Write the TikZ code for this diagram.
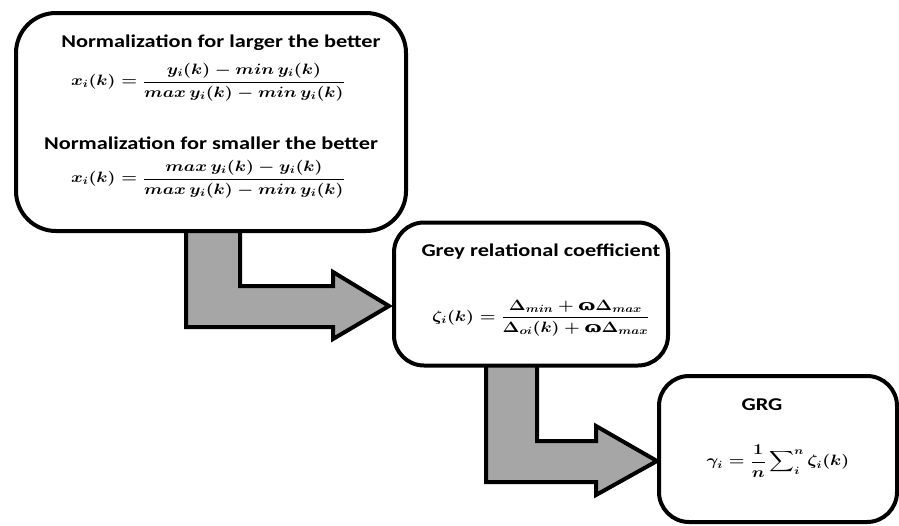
\documentclass[tikz,border=0pt]{standalone}
\usepackage{fix-cm}
\usepackage{amsmath}
\usepackage{graphicx}
\usepackage{fontspec}
\setmainfont{Carlito}
\newfontfamily\omegafont{DejaVu Serif}
\newcommand{\myomega}{\text{\omegafont\bfseries ɷ}}
\newcommand{\widetext}[1]{\scalebox{1.24}[1]{#1}}
\newcommand{\widemath}[1]{\scalebox{1.2}[1]{$#1$}}
\begin{document}
\begin{tikzpicture}[x=1pt,y=-1pt,
  boxstyle/.style={draw=black,line width=4pt,fill=white,rounded corners=#1},
  arrowstyle/.style={draw=black,line width=4pt,fill=gray!70,line join=miter},
  titlestyle/.style={font=\fontsize{18}{21}\selectfont\bfseries,inner sep=0pt},
  mathstyle/.style={font=\fontsize{15}{18}\selectfont\boldmath,inner sep=0pt}]
\useasboundingbox (0,0) rectangle (899,525);
\fill[white] (0,0) rectangle (899,525);
% arrows
\draw[arrowstyle] (186,225) -- (240,225) -- (240,286) -- (333,286) -- (333,272) -- (389,306) -- (333,339) -- (333,327) -- (186,327) -- cycle;
\draw[arrowstyle] (486,360) -- (537,360) -- (537,441) -- (596,441) -- (596,426) -- (657,461) -- (596,495) -- (596,482) -- (486,482) -- cycle;
% boxes
\node[boxstyle=40pt,minimum width=390pt,minimum height=218pt,inner sep=0pt] (norm) at (211,122) {};
\node[boxstyle=30pt,minimum width=274pt,minimum height=143pt,inner sep=0pt] (grc) at (531,294) {};
\node[boxstyle=30pt,minimum width=238pt,minimum height=146pt,inner sep=0pt] (grg) at (778,449) {};
% texts
\node[titlestyle] (t1) at (221,43) {\widetext{Normalization for larger the better}};
\node[mathstyle] (f1) at (208,82) {\widemath{x_i(k)=\dfrac{y_i(k)-min\,y_i(k)}{max\,y_i(k)-min\,y_i(k)}}};
\node[titlestyle] (t2) at (211,143) {\widetext{Normalization for smaller the better}};
\node[mathstyle] (f2) at (208,179) {\widemath{x_i(k)=\dfrac{max\,y_i(k)-y_i(k)}{max\,y_i(k)-min\,y_i(k)}}};
\node[titlestyle] (t3) at (541,252) {\widetext{Grey relational coefficient}};
\node[mathstyle] (f3) at (541,318) {\widemath{\zeta_i(k)=\dfrac{\Delta_{min}+\myomega\Delta_{max}}{\Delta_{oi}(k)+\myomega\Delta_{max}}}};
\node[titlestyle] (t4) at (762,405) {\widetext{GRG}};
\node[mathstyle] (f4) at (778,461) {\widemath{\gamma_i=\dfrac{1}{n}\displaystyle\sum\nolimits_i^n\zeta_i(k)}};
\end{tikzpicture}
\end{document}
